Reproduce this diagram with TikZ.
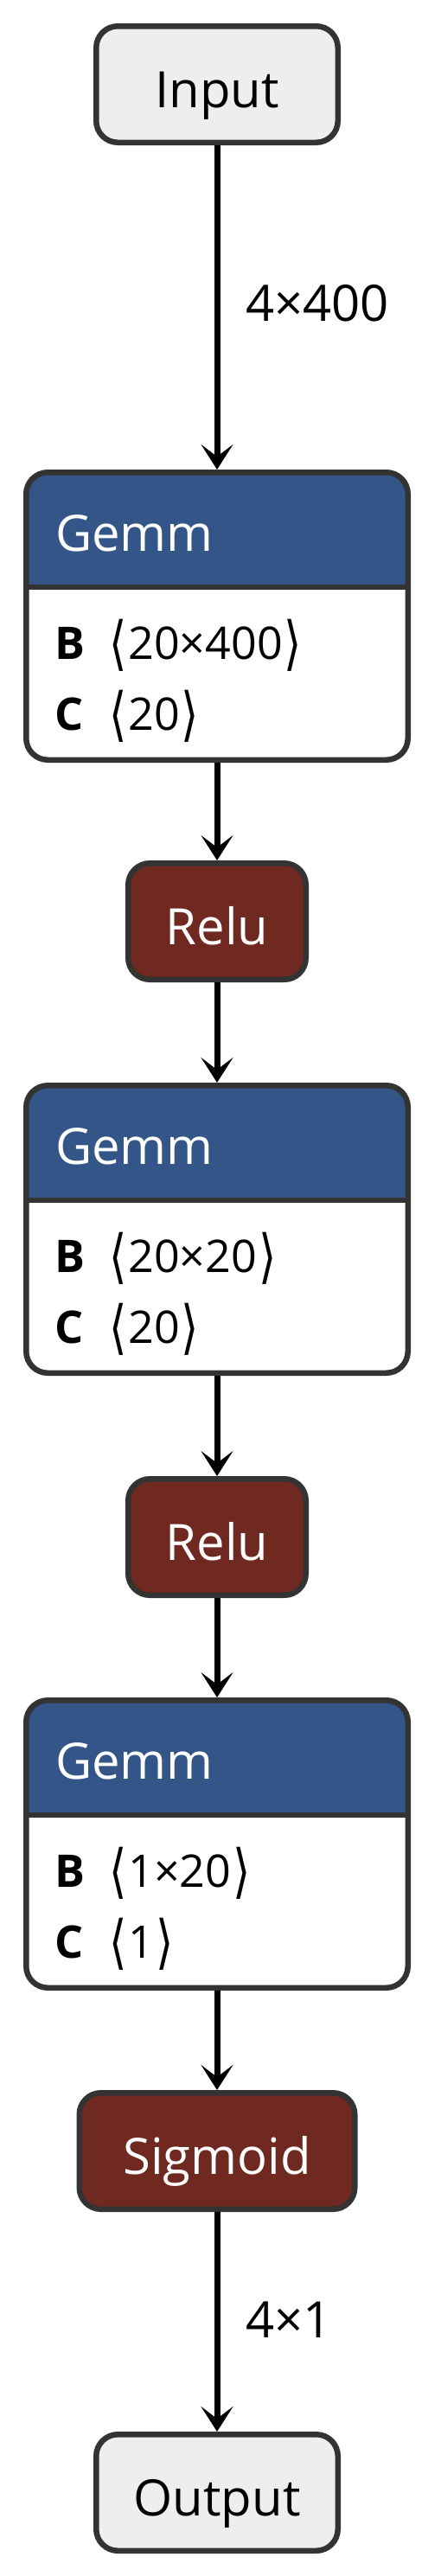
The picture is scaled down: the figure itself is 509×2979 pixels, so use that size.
\documentclass[tikz,border=0pt]{standalone}
\usepackage{fontspec}
\usepackage{graphicx}
\setmainfont{Open Sans}
\newfontfamily\brfont{DejaVu Sans}
\usetikzlibrary{arrows.meta}
\definecolor{bordc}{HTML}{333333}
\definecolor{iofill}{HTML}{EEEEEE}
\definecolor{gemmblue}{HTML}{335588}
\definecolor{actred}{HTML}{702921}
\newcommand\ttlfont{\fontsize{58pt}{70pt}\selectfont}
\newcommand\atrfont{\fontsize{52pt}{62pt}\selectfont}
\newcommand\lb{\raisebox{-5pt}{\scalebox{1}[1.3]{\brfont ⟨}}\kern2pt}
\newcommand\rb{\kern2pt\raisebox{-5pt}{\scalebox{1}[1.3]{\brfont ⟩}}}
\tikzset{
  box/.style={draw=bordc, line width=6.5pt, rounded corners=25pt, inner sep=0pt,
    minimum height=134.5pt, text height=54pt, text depth=0pt, font=\ttlfont},
  iobox/.style={box, fill=iofill, text=black, minimum width=279.5pt},
  actbox/.style={box, fill=actred, text=white},
  gemmbox/.style={draw=bordc, line width=6.5pt, rounded corners=25pt, fill=white,
    minimum width=441.5pt, minimum height=332.5pt, inner sep=0pt,
    path picture={
      \fill[gemmblue, sharp corners] (path picture bounding box.north west) rectangle
        ([yshift=-132.75pt]path picture bounding box.north east);
      \draw[bordc, line width=6.5pt, sharp corners] ([yshift=-132.75pt]path picture bounding box.north west) --
        ([yshift=-132.75pt]path picture bounding box.north east);}},
  gtitle/.style={anchor=base west, inner sep=0pt, text=white, font=\ttlfont},
  aname/.style={anchor=base west, inner sep=0pt, text=black, font=\atrfont\bfseries},
  aval/.style={anchor=base west, inner sep=0pt, text=black, font=\atrfont},
  elabel/.style={anchor=base west, inner sep=0pt, text=black, font=\ttlfont},
  edge/.style={draw=black, line width=7pt, -{Stealth[length=29pt, width=37pt, inset=14pt]}}
}
\begin{document}
\begin{tikzpicture}[x=1pt, y=-1pt]
\useasboundingbox (0,0) rectangle (509,2979);
\fill[white] (0,0) rectangle (509,2979);

\node[iobox] (in) at (251,97.5) {Input};

\node[gemmbox] (g1) at (251,712.5) {};
\node[gtitle] (g1t) at (64,637) {Gemm};
\node[aname] (g1b) at (63,762) {B};
\node[aval] (g1bv) at (126,762) {\lb20×400\rb};
\node[aname] (g1c) at (63,844) {C};
\node[aval] (g1cv) at (126,844) {\lb20\rb};

\node[actbox, minimum width=205.5pt] (r1) at (251,1065.5) {Relu};

\node[gemmbox] (g2) at (251,1421.5) {};
\node[gtitle] (g2t) at (64,1346) {Gemm};
\node[aname] (g2b) at (63,1471) {B};
\node[aval] (g2bv) at (126,1471) {\lb20×20\rb};
\node[aname] (g2c) at (63,1553) {C};
\node[aval] (g2cv) at (126,1553) {\lb20\rb};

\node[actbox, minimum width=205.5pt] (r2) at (251,1777.5) {Relu};

\node[gemmbox] (g3) at (251,2132.5) {};
\node[gtitle] (g3t) at (64,2057) {Gemm};
\node[aname] (g3b) at (63,2182) {B};
\node[aval] (g3bv) at (126,2182) {\lb1×20\rb};
\node[aname] (g3c) at (63,2264) {C};
\node[aval] (g3cv) at (126,2264) {\lb1\rb};

\node[actbox, minimum width=318.5pt] (sg) at (251,2487.5) {Sigmoid};

\node[iobox] (out) at (251,2882.5) {Output};

\draw[edge] (in) -- (g1);
\draw[edge] (g1) -- (r1);
\draw[edge] (r1) -- (g2);
\draw[edge] (g2) -- (r2);
\draw[edge] (r2) -- (g3);
\draw[edge] (g3) -- (sg);
\draw[edge] (sg) -- (out);

\node[elabel] (l1) at (284,371) {4×400};
\node[elabel] (l2) at (284,2703) {4×1};
\end{tikzpicture}
\end{document}
